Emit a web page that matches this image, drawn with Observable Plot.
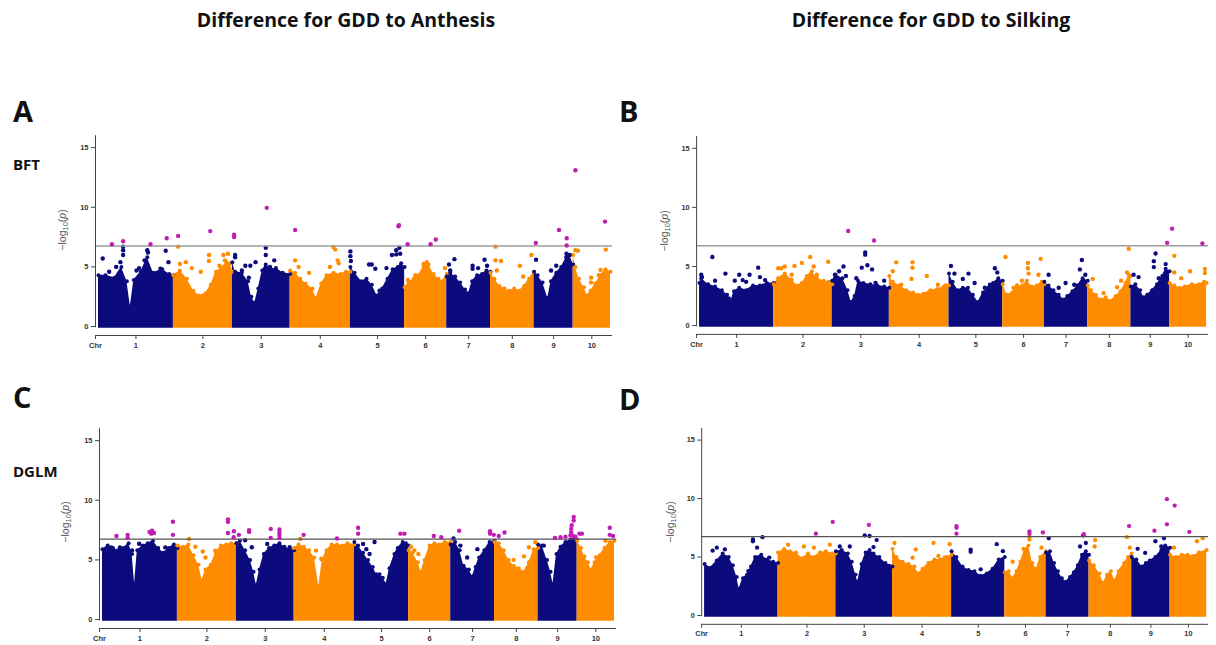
<!DOCTYPE html>
<html><head><meta charset="utf-8">
<script src="https://cdn.jsdelivr.net/npm/d3@7"></script>
<script src="https://cdn.jsdelivr.net/npm/@observablehq/plot@0.6"></script>
<style>
body{margin:0;background:#fff;width:1216px;height:645px;overflow:hidden;position:relative;}
.panel{position:absolute;}
.panel svg{display:block;overflow:visible;}
#overlay{position:absolute;left:0;top:0;font-family:"Open Sans",Lato,sans-serif;}
</style>
</head><body>
<div id="root"></div>
<svg id="overlay" width="1216" height="645">
  <g font-weight="700" fill="#111">
    <text x="346" y="27" text-anchor="middle" font-size="19.5">Difference for GDD to Anthesis</text>
    <text x="931" y="27" text-anchor="middle" font-size="19.5">Difference for GDD to Silking</text>
    <text x="13" y="122" font-size="29">A</text>
    <text x="619" y="122" font-size="29">B</text>
    <text x="13" y="408" font-size="29">C</text>
    <text x="619" y="410" font-size="29">D</text>
    <text x="13" y="170" font-size="15">BFT</text>
    <text x="13" y="477" font-size="15">DGLM</text>
  </g>
  <g font-family="Liberation Sans, Arial, sans-serif" fill="#555" font-size="10.5" text-anchor="middle">
    <text transform="translate(66,230) rotate(-90)">−log<tspan font-size="7.5" dy="2">10</tspan><tspan dy="-2">(</tspan><tspan font-style="italic">p</tspan>)</text>
    <text transform="translate(668,231) rotate(-90)">−log<tspan font-size="7.5" dy="2">10</tspan><tspan dy="-2">(</tspan><tspan font-style="italic">p</tspan>)</text>
    <text transform="translate(69,522) rotate(-90)">−log<tspan font-size="7.5" dy="2">10</tspan><tspan dy="-2">(</tspan><tspan font-style="italic">p</tspan>)</text>
    <text transform="translate(674,522) rotate(-90)">−log<tspan font-size="7.5" dy="2">10</tspan><tspan dy="-2">(</tspan><tspan font-style="italic">p</tspan>)</text>
  </g>
</svg>
<script>
// ---------- data ----------
const chrLabels = ["1","2","3","4","5","6","7","8","9","10"];
const chrLen = [301, 237, 232, 242, 218, 169, 176, 175, 157, 150]; // Mb
const yTicks = [0, 5, 10, 15];
const threshold = 6.75;

// upper profile of the dense SNP cloud: per chromosome [Mb, -log10 p]
const profileA = [
 [[0,4.3],[28,4.3],[64,4.1],[92,5.0],[114,3.8],[128,1.7],[142,3.9],[170,4.6],[196,5.8],[220,4.5],[256,4.8],[284,4.4],[301,4.3]],
 [[0,4.3],[26,4.7],[54,4.0],[81,3.0],[102,2.6],[130,2.8],[150,3.5],[171,4.6],[192,4.9],[213,5.4],[229,5.3],[237,4.6]],
 [[0,5.4],[11,4.6],[38,4.5],[63,3.8],[76,2.5],[90,2.0],[104,3.2],[120,4.7],[134,5.2],[154,4.8],[175,4.9],[202,4.5],[232,4.4]],
 [[0,4.7],[20,4.5],[41,4.0],[62,3.6],[90,3.2],[104,2.4],[125,3.6],[146,4.3],[174,4.5],[203,4.4],[224,4.6],[242,4.6]],
 [[0,5.0],[17,4.5],[44,3.8],[65,4.0],[86,3.5],[107,2.6],[128,3.2],[149,4.0],[170,4.8],[190,5.0],[204,5.3],[218,5.0]],
 [[0,3.3],[16,3.7],[36,4.0],[56,4.3],[76,5.1],[96,5.2],[116,4.4],[136,4.0],[152,3.8],[169,4.4]],
 [[0,4.2],[14,4.5],[34,4.2],[54,3.7],[74,3.1],[88,2.8],[102,3.8],[122,4.3],[142,4.4],[160,4.7],[176,4.6]],
 [[0,4.5],[16,4.0],[36,3.4],[56,3.2],[75,3.0],[95,3.2],[115,3.0],[135,3.4],[155,4.0],[175,4.6]],
 [[0,4.6],[14,4.3],[34,3.7],[55,2.4],[68,3.8],[89,4.5],[109,5.0],[130,5.8],[143,6.0],[157,5.2]],
 [[0,6.0],[9,5.0],[23,4.0],[43,3.3],[56,2.6],[70,3.0],[90,3.6],[110,4.3],[130,4.8],[150,4.6]]
];
// isolated SNPs: [chromosome, Mb, -log10 p]
const dotsA = [
 [1,17,5.7],[1,88,5.4],[1,99,6.0],[1,99,6.4],[1,99,6.7],[1,196,6.4],[1,199,6.2],[1,185,5.55],[1,270,6.35],[1,281,5.4],[1,249,4.85],[1,153,4.7],[1,71,5.0],[1,43,4.6],[1,163,4.9],
 [2,19,6.7],[2,50,5.4],[2,26,5.25],[2,74,4.9],[2,110,4.6],[2,143,6.0],[2,143,5.5],[2,201,6.0],[2,219,6.1],[2,185,5.1],[2,207,5.55],
 [3,11,6.0],[3,11,5.8],[3,52,5.1],[3,72,5.1],[3,66,4.1],[3,93,5.4],[3,134,6.6],[3,134,6.0],[3,168,5.55],[3,151,5.0],[3,38,4.7],
 [4,20,5.55],[4,76,4.5],[4,174,6.67],[4,181,6.45],[4,191,5.55],[4,195,5.3],[4,34,5.0],[4,160,5.0],
 [5,0,6.3],[5,0,5.9],[5,2,5.5],[5,75,5.2],[5,86,5.2],[5,100,4.85],[5,145,4.9],[5,167,6.0],[5,184,6.4],[5,184,6.05],[5,197,6.6],[5,200,6.1],[5,117,3.0],
 [6,13,3.9],[6,162,4.9],[6,76,5.25],[6,89,5.4],[6,43,4.3],
 [7,9,5.2],[7,14,4.7],[7,31,5.65],[7,104,5.1],[7,104,4.85],[7,126,4.9],[7,152,5.6],[7,162,5.1],
 [8,20,6.7],[8,20,5.55],[8,42,5.5],[8,118,5.1],[8,164,6.0],[8,131,4.2],[8,25,4.7],
 [9,8,5.6],[9,68,4.7],[9,89,5.1],[9,130,6.1],[9,130,5.8],[9,143,6.0],
 [10,9,6.4],[10,19,6.35],[10,72,4.1],[10,72,3.7],[10,110,4.75],[10,131,6.45],[10,103,4.3]
];
// significant SNPs (above threshold)
const sigA = [
 [1,54,6.9],[1,99,7.15],[1,209,6.9],[1,274,7.4],[2,19,7.6],[2,148,8.0],[3,7,7.7],[3,7,7.5],[3,138,9.95],[4,20,8.1],
 [5,193,8.4],[5,195,8.5],[6,12,6.9],[6,104,6.9],[6,125,7.3],[9,7,7.0],[9,100,8.1],[9,131,7.4],[9,131,6.8],[10,9,13.1],[10,128,8.8]
];

const profileB = [
 [[0,3.6],[7,4.0],[35,3.5],[63,3.3],[91,3.0],[112,2.6],[126,2.0],[140,2.9],[161,3.2],[189,3.0],[217,3.4],[245,3.4],[273,3.6],[301,3.6]],
 [[0,3.5],[18,4.0],[45,4.4],[73,3.9],[93,3.4],[114,3.6],[134,4.2],[155,4.6],[175,4.0],[203,3.8],[223,3.7],[237,3.5]],
 [[0,3.8],[14,4.3],[42,4.0],[63,3.0],[77,2.0],[91,2.5],[105,3.8],[127,3.6],[155,3.5],[183,3.4],[211,3.3],[232,3.2]],
 [[0,4.2],[14,3.7],[41,3.4],[69,3.0],[97,2.8],[117,2.6],[138,2.7],[166,3.0],[194,3.1],[221,3.3],[242,3.4]],
 [[0,4.4],[15,3.7],[36,3.0],[56,3.2],[77,3.2],[97,2.6],[118,2.0],[138,2.8],[159,3.2],[179,3.6],[200,4.0],[218,3.8]],
 [[0,3.5],[17,2.6],[38,2.8],[58,3.2],[78,3.4],[98,3.8],[118,3.3],[138,3.4],[158,3.7],[169,3.5]],
 [[0,3.7],[17,3.4],[37,3.0],[58,2.6],[79,2.2],[93,2.5],[114,2.9],[134,3.4],[155,4.0],[176,3.8]],
 [[0,3.4],[13,3.0],[33,2.6],[53,2.2],[73,2.4],[93,2.1],[113,2.5],[133,2.9],[153,3.6],[166,4.3],[175,4.2]],
 [[0,3.3],[18,3.5],[38,3.0],[52,2.4],[66,2.6],[86,3.0],[106,3.5],[127,4.2],[141,4.8],[157,4.6]],
 [[0,3.6],[19,3.4],[40,3.2],[61,3.3],[90,3.5],[119,3.5],[140,3.7],[150,3.6]]
];
const dotsB = [
 [1,52,5.8],[1,105,4.4],[1,143,3.8],[1,161,4.3],[1,203,4.3],[1,238,4.9],[1,245,4.1],[1,189,3.7],[1,7,4.3],[1,10,4.1],[1,119,2.3],[1,63,3.8],[1,175,3.85],[1,266,3.85],
 [2,18,4.85],[2,45,5.0],[2,84,5.05],[2,114,5.3],[2,148,5.8],[2,162,5.0],[2,221,5.4],[2,73,4.3],[2,175,4.3],[2,31,4.85],
 [3,46,5.0],[3,28,4.6],[3,56,4.2],[3,98,4.0],[3,134,6.2],[3,134,6.0],[3,120,4.9],[3,143,5.1],[3,162,4.75],[3,176,3.6],[3,211,3.8],[3,11,4.3],
 [4,28,5.35],[4,14,4.6],[4,94,5.35],[4,94,4.9],[4,90,3.95],[4,152,4.2],[4,197,3.45],[4,228,3.4],[4,48,3.45],
 [5,8,5.05],[5,22,4.4],[5,56,3.95],[5,79,4.4],[5,104,3.6],[5,145,3.2],[5,186,4.85],[5,196,4.5],[5,166,3.45],
 [6,11,5.8],[6,102,5.3],[6,102,4.85],[6,105,4.4],[6,154,5.65],[6,145,4.3],[6,78,3.8],[6,44,3.2],[6,58,3.4],
 [7,152,5.55],[7,144,4.75],[7,166,4.3],[7,86,3.6],[7,58,3.2],[7,121,3.45],[7,17,4.3],
 [8,166,6.5],[8,20,3.95],[8,64,2.75],[8,119,3.25],[8,135,3.8],[8,159,4.5],
 [9,100,6.1],[9,93,5.45],[9,93,4.95],[9,113,4.0],[9,141,5.2],[9,31,4.1],[9,11,4.3],
 [10,19,5.9],[10,19,4.5],[10,83,4.6],[10,143,4.8],[10,143,4.45],[10,47,4.0]
];
const sigB = [[3,65,8.0],[3,170,7.2],[9,147,7.0],[10,10,8.2],[10,133,6.95]];

const profileC = [
 [[0,5.9],[21,6.2],[42,6.0],[63,5.8],[84,6.0],[105,6.4],[119,5.5],[129,3.0],[140,5.8],[161,6.2],[182,6.4],[203,6.6],[224,6.0],[245,5.6],[266,6.0],[287,6.3],[301,6.0]],
 [[0,6.2],[23,6.1],[44,6.3],[65,5.4],[85,4.6],[99,3.3],[113,4.2],[134,4.6],[154,5.6],[175,6.2],[196,6.3],[216,6.4],[237,6.4]],
 [[0,6.4],[14,6.6],[35,5.8],[55,5.0],[69,4.0],[80,2.9],[93,4.2],[110,5.5],[131,6.0],[152,6.2],[173,6.4],[193,6.1],[214,5.9],[232,5.8]],
 [[0,6.0],[18,6.3],[39,6.1],[60,5.8],[81,5.2],[99,2.8],[113,5.0],[130,5.8],[151,6.3],[172,6.3],[193,6.2],[214,6.4],[242,6.3]],
 [[0,6.5],[15,6.2],[35,5.6],[55,5.0],[74,4.4],[88,3.8],[101,3.8],[114,3.5],[128,3.0],[141,4.3],[161,5.5],[174,6.0],[194,6.5],[207,6.4],[218,6.2]],
 [[0,5.8],[16,5.6],[37,4.8],[50,4.0],[64,5.0],[84,6.2],[104,6.4],[124,6.3],[145,6.5],[169,6.5]],
 [[0,6.3],[18,6.5],[36,5.8],[52,4.5],[73,4.2],[87,3.6],[100,4.4],[114,5.2],[135,5.8],[156,6.5],[176,6.6]],
 [[0,6.5],[17,6.4],[37,5.8],[57,5.0],[77,4.5],[98,4.3],[118,4.0],[138,4.8],[158,5.9],[175,6.0]],
 [[0,6.3],[16,6.2],[36,5.0],[50,4.0],[60,3.0],[74,5.5],[90,6.1],[110,6.5],[130,6.7],[146,6.8],[157,6.7]],
 [[0,6.6],[16,6.0],[29,5.3],[43,4.8],[56,4.2],[70,4.8],[90,5.4],[110,6.0],[131,6.5],[150,6.6]]
];
const dotsC = [
 [1,35,6.05],[1,70,6.05],[1,147,6.35],[1,252,6.05],[1,119,5.8],
 [2,47,6.76],[2,72,6.1],[2,102,5.7],[2,113,5.2],[2,152,5.78],
 [3,35,6.65],[3,124,6.34],[3,145,5.78],[3,214,6.06],[3,62,6.06],
 [4,25,6.76],[4,109,5.1],[4,88,5.78],
 [5,81,6.5],[5,48,5.9],[5,35,6.34],[5,61,5.5],
 [6,9,6.1],[6,39,5.5],[6,23,5.8],
 [7,11,6.8],[7,107,5.9],[7,39,6.2],[7,66,5.2],
 [8,164,6.48],[8,138,6.06],[8,118,5.3],[8,77,5.0],
 [9,23,6.2],
 [10,114,6.6],[10,76,5.2]
];
const sigC = [
 [1,56,7.0],[1,101,7.1],[1,101,6.85],[1,189,7.35],[1,196,7.2],[1,207,7.25],[1,199,7.45],[1,283,8.2],[1,283,7.1],
 [2,203,8.4],[2,203,8.2],[2,203,7.25],[2,227,7.4],[2,226,6.9],
 [3,10,7.1],[3,51,7.5],[3,51,7.35],[3,138,7.6],[3,138,6.85],[3,173,7.55],[3,173,7.3],[3,173,7.1],[3,173,6.85],
 [4,38,7.1],[4,172,6.8],
 [5,15,7.7],[5,15,7.2],[5,185,7.2],[5,201,7.2],
 [6,101,7.0],[6,131,6.9],
 [7,34,7.45],[7,158,7.4],[7,158,7.2],[7,173,7.1],
 [8,17,7.0],[8,40,7.3],
 [9,68,6.85],[9,90,6.9],[9,110,6.95],[9,130,7.05],[9,133,7.3],[9,133,7.6],[9,135,7.9],[9,143,8.3],[9,143,8.6],[9,140,7.0],[9,150,6.95],
 [10,9,7.2],[10,19,7.2],[10,131,7.7],[10,131,7.1],[10,144,7.0]
];

const profileD = [
 [[0,4.4],[25,4.1],[50,4.7],[74,5.3],[99,5.0],[116,4.3],[132,3.3],[141,2.3],[157,3.2],[174,3.5],[190,4.2],[207,5.0],[232,5.2],[256,4.8],[281,4.6],[301,4.5]],
 [[0,5.4],[25,5.7],[49,5.5],[74,5.4],[98,4.9],[123,5.3],[147,5.0],[172,5.4],[196,5.5],[221,5.3],[237,5.3]],
 [[0,5.5],[24,5.6],[49,5.3],[65,4.6],[81,3.5],[89,2.9],[105,4.4],[122,5.4],[138,5.6],[154,5.3],[178,5.0],[203,4.5],[232,4.2]],
 [[0,5.7],[16,5.0],[41,4.6],[65,4.4],[90,4.2],[106,3.6],[123,4.0],[147,4.5],[172,4.8],[196,4.8],[221,5.0],[242,5.2]],
 [[0,5.5],[20,5.0],[45,4.2],[69,3.9],[94,3.8],[119,3.4],[144,3.6],[168,4.0],[193,4.8],[218,5.0]],
 [[0,3.7],[16,3.8],[32,3.2],[48,3.8],[64,4.6],[80,5.6],[97,6.0],[113,4.5],[129,4.0],[145,5.0],[169,5.5]],
 [[0,5.4],[16,5.5],[33,4.5],[49,3.8],[65,3.2],[81,2.9],[98,3.3],[114,3.7],[130,4.3],[147,5.2],[163,5.5],[176,5.2]],
 [[0,4.7],[20,4.3],[43,3.6],[59,2.8],[74,3.5],[90,3.8],[105,3.0],[121,3.8],[144,4.5],[160,5.0],[175,5.3]],
 [[0,5.0],[19,4.8],[42,4.2],[58,4.5],[74,4.7],[97,5.0],[121,5.6],[137,6.0],[157,5.8]],
 [[0,5.2],[24,5.0],[48,5.2],[71,5.2],[95,5.1],[118,5.4],[150,5.6]]
];
const dotsD = [
 [1,33,5.55],[1,50,5.8],[1,83,5.65],[1,91,4.95],[1,198,6.35],[1,198,6.5],[1,237,6.7],[1,215,5.8],[1,265,4.95],[1,179,3.8],
 [2,41,6.05],[2,106,5.9],[2,147,5.8],[2,212,6.05],
 [3,16,5.9],[3,57,5.9],[3,118,6.85],[3,138,6.8],[3,167,6.45],[3,154,5.85],[3,219,4.25],
 [4,8,6.2],[4,95,5.65],[4,168,6.2],[4,234,6.1],[4,82,4.95],[4,188,5.1],[4,213,4.95],
 [5,78,5.64],[5,78,5.45],[5,185,6.1],[5,210,5.5],[5,119,3.95],
 [6,32,4.6],[6,77,5.7],[6,101,6.75],[6,101,6.5],[6,150,5.8],
 [7,11,6.6],[7,152,6.85],[7,139,5.9],[7,163,6.2],
 [8,25,6.45],[8,23,5.9],[8,155,6.7],[8,167,5.8],
 [9,24,5.7],[9,55,5.35],[9,97,6.35],[9,121,5.9],[9,132,6.6],
 [10,16,5.8],[10,110,6.35],[10,134,6.6]
];
const sigD = [
 [2,155,7.0],[2,224,8.0],[3,135,7.75],[5,20,7.65],[5,20,7.5],[5,20,7.0],[6,101,7.2],[6,101,7.0],[6,156,7.1],
 [7,155,6.95],[8,164,7.65],[9,93,7.25],[9,144,9.95],[9,144,7.8],[10,19,9.4],[10,79,7.15]
];

// ---------- build ----------
const NAVY = "#0b0b7e", ORANGE = "#ff8c00", MAGENTA = "#c01db3";
const offsets = Array.from(d3.cumsum([0, ...chrLen.slice(0, -1)]));
const total = d3.sum(chrLen);
const centers = chrLen.map((L, i) => offsets[i] + L / 2);
const xDomain = [-12, total + 8];
const yDomain = [-0.75, 16.1];
const xTicks = [xDomain[0], ...centers];
const tickLabel = new Map(xTicks.map((t, i) => [t, i === 0 ? "Chr" : chrLabels[i - 1]]));
const colorFor = c => (c % 2 ? NAVY : ORANGE);

const fromProfile = p => p.flatMap((pts, i) => pts.map(([m, v]) => ({chr: i + 1, x: offsets[i] + m, v})));
const fromDots = ds => ds.map(([c, m, v]) => ({chr: c, x: offsets[c - 1] + m, v}));

const panels = [
  {profile: profileA, dots: dotsA, sig: sigA, left: 0,   top: 120, thr: "#9c9c9c", thrW: 1.5},
  {profile: profileB, dots: dotsB, sig: sigB, left: 602, top: 121, thr: "#9c9c9c", thrW: 1.5},
  {profile: profileC, dots: dotsC, sig: sigC, left: 4,   top: 413, thr: "#555555", thrW: 1.2},
  {profile: profileD, dots: dotsD, sig: sigD, left: 608, top: 413, thr: "#555555", thrW: 1.2}
];

const root = document.getElementById("root");
for (const p of panels) {
  const prof = fromProfile(p.profile);
  const dots = fromDots(p.dots);
  const sig = fromDots(p.sig);
  const chart = Plot.plot({
    width: 620, height: 240,
    marginLeft: 95, marginRight: 8, marginTop: 14, marginBottom: 25,
    x: {domain: xDomain},
    y: {domain: yDomain},
    color: {type: "identity"},
    style: {fontFamily: "Liberation Sans, Arial, sans-serif", fontSize: "7.5px", fontWeight: "bold", color: "#333", background: "transparent"},
    marks: [
      Plot.areaY(prof, {x: "x", y1: -0.15, y2: "v", z: "chr", fill: d => colorFor(d.chr), curve: "linear"}),
      Plot.dot(prof, {x: "x", y: "v", r: 2, fill: d => colorFor(d.chr)}),
      Plot.dot(dots, {x: "x", y: "v", r: 2.2, fill: d => colorFor(d.chr)}),
      Plot.ruleY([threshold], {stroke: p.thr, strokeWidth: p.thrW}),
      Plot.dot(sig, {x: "x", y: "v", r: 2.2, fill: MAGENTA}),
      Plot.ruleY([yDomain[0]], {stroke: "#444", strokeWidth: 1}),
      Plot.ruleX([xDomain[0]], {y1: -0.1, y2: 16, stroke: "#444", strokeWidth: 1}),
      Plot.axisX(xTicks, {tickFormat: d => tickLabel.get(d), tickSize: 4, tickPadding: 3, label: null, stroke: "#444"}),
      Plot.axisY(yTicks, {tickSize: 4, tickPadding: 3, label: null, stroke: "#444"})
    ]
  });
  const div = document.createElement("div");
  div.className = "panel";
  div.style.left = p.left + "px";
  div.style.top = p.top + "px";
  div.appendChild(chart);
  root.appendChild(div);
}
</script>
</body></html>
